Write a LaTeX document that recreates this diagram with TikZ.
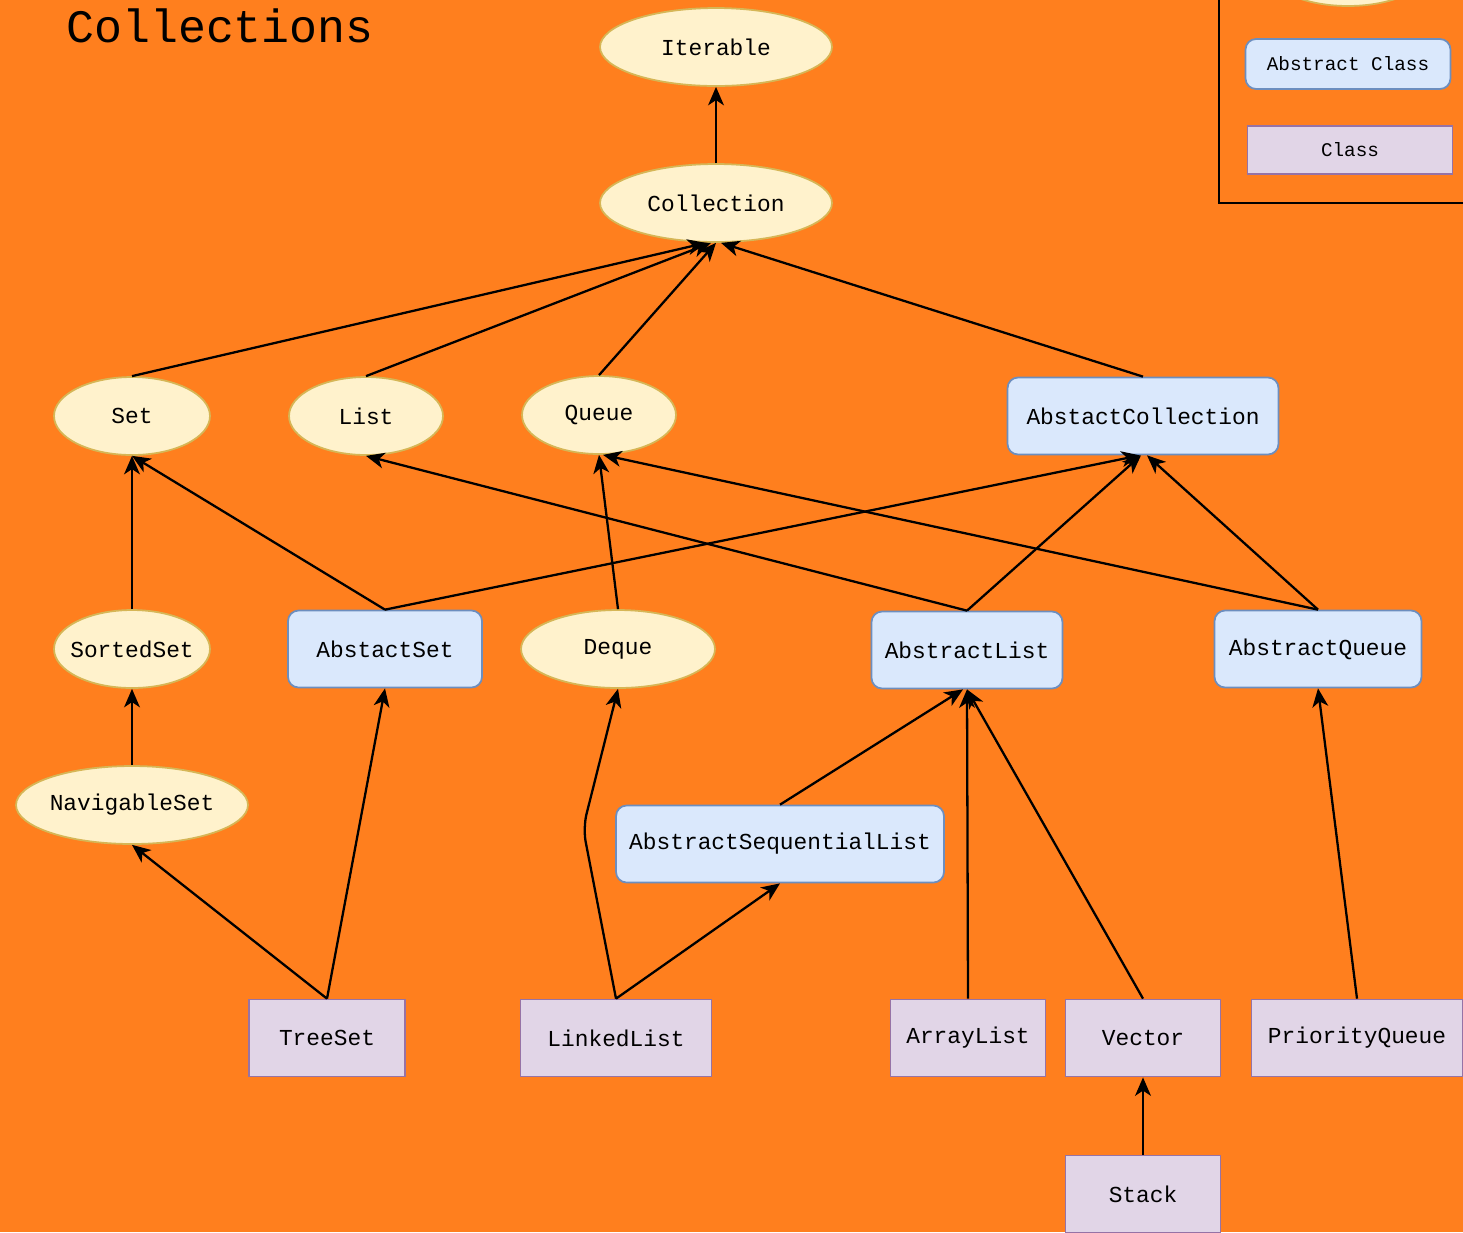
\documentclass[tikz,border=0pt]{standalone}
\usepackage{fontspec}
\setmainfont{Liberation Mono}
\usetikzlibrary{shapes.geometric}
\usetikzlibrary{arrows.meta}

\definecolor{bgorange}{HTML}{FF7F1E}
\definecolor{ifacefill}{HTML}{FFF2CC}
\definecolor{ifaceline}{HTML}{D6B656}
\definecolor{absfill}{HTML}{DAE8FC}
\definecolor{absline}{HTML}{6C8EBF}
\definecolor{clsfill}{HTML}{E1D5E7}
\definecolor{clsline}{HTML}{9673A6}

% text of an ellipse does not widen it
\newcommand{\itext}[1]{\makebox[0pt]{#1}}

\tikzset{
	iface/.style={ellipse, draw=ifaceline, fill=ifacefill, line width=1pt, inner sep=0pt, minimum height=1.56cm, font=\fontsize{13}{15}\selectfont},
	absbox/.style={rectangle, rounded corners=6pt, draw=absline, fill=absfill, line width=1pt, inner sep=0pt, minimum height=1.54cm, font=\fontsize{13}{15}\selectfont},
	clsbox/.style={rectangle, draw=clsline, fill=clsfill, line width=1pt, inner sep=0pt, minimum height=1.54cm, font=\fontsize{13}{15}\selectfont},
	inherit/.style={-{Stealth[length=10.5pt,width=9pt,inset=3pt]}, line width=1.3pt, black},
}

\begin{document}
\begin{tikzpicture}[x=0.02cm, y=-0.02cm]
		\fill[bgorange] (0,0) rectangle (1463,1232);
		\useasboundingbox (0,0) rectangle (1463,1232);
		\clip (0,0) rectangle (1463,1232);

		\node[font=\fontsize{26.5}{30}\selectfont] (title) at (220,26) {Collections};

		% Interfaces
		\node[iface, minimum width=4.64cm] (iterable) at (716,47) {\itext{Iterable}};
		\node[iface, minimum width=4.64cm] (collection) at (716,203) {\itext{Collection}};
		\node[iface, minimum width=3.12cm] (set) at (132,416) {\itext{Set}};
		\node[iface, minimum width=3.08cm] (list) at (366,416) {\itext{List}};
		\node[iface, minimum width=3.08cm] (queue) at (599,415) {\itext{Queue}};
		\node[iface, minimum width=3.12cm] (sortedset) at (132,649) {\itext{SortedSet}};
		\node[iface, minimum width=3.88cm] (deque) at (618,649) {\itext{Deque}};
		\node[iface, minimum width=4.64cm] (navigableset) at (132,805) {\itext{NavigableSet}};

		% Abstract classes
		\node[absbox, minimum width=5.42cm] (abscollection) at (1143,416) {AbstactCollection};
		\node[absbox, minimum width=3.88cm] (absset) at (385,649) {AbstactSet};
		\node[absbox, minimum width=3.82cm] (abslist) at (967,650) {AbstractList};
		\node[absbox, minimum width=4.14cm] (absqueue) at (1318,649) {AbstractQueue};
		\node[absbox, minimum width=6.56cm] (absseqlist) at (780,844) {AbstractSequentialList};

		% Classes
		\node[clsbox, minimum width=3.12cm] (treeset) at (327,1038) {TreeSet};
		\node[clsbox, minimum width=3.82cm] (linkedlist) at (616,1038) {LinkedList};
		\node[clsbox, minimum width=3.1cm] (arraylist) at (968,1038) {ArrayList};
		\node[clsbox, minimum width=3.1cm] (vector) at (1143,1038) {Vector};
		\node[clsbox, minimum width=4.22cm] (priorityqueue) at (1357,1038) {PriorityQueue};
		\node[clsbox, minimum width=3.1cm] (stack) at (1143,1194) {Stack};

		% Connections
		\draw [inherit] (collection.north) -- (iterable.south);
		\draw [inherit] (set.north) -- ([xshift=-0.2cm]collection.south);
		\draw [inherit] (list.north) -- ([xshift=-0.1cm]collection.south);
		\draw [inherit] (queue.north) -- (collection.south);
		\draw [inherit] (abscollection.north) -- ([xshift=0.1cm]collection.south);

		\draw [inherit] (sortedset.north) -- (set.south);
		\draw [inherit] (absset.north) -- (set.south);
		\draw [inherit] (absset.north) -- ([xshift=-0.06cm]abscollection.south);
		\draw [inherit] (deque.north) -- (queue.south);
		\draw [inherit] (abslist.north) -- (list.south);
		\draw [inherit] (abslist.north) -- ([xshift=-0.04cm]abscollection.south);
		\draw [inherit] (absqueue.north) -- ([xshift=0.08cm]queue.south);
		\draw [inherit] (absqueue.north) -- ([xshift=0.08cm]abscollection.south);

		\draw [inherit] (navigableset.north) -- (sortedset.south);
		\draw [inherit] (treeset.north) -- (navigableset.south);
		\draw [inherit] (treeset.north) -- (absset.south);
		\coordinate (dequebend) at (583,828);
		\draw [inherit, rounded corners=8pt] (linkedlist.north) -- (dequebend) -- (deque.south);
		\draw [inherit] (linkedlist.north) -- (absseqlist.south);
		\draw [inherit] (absseqlist.north) -- ([xshift=-0.08cm]abslist.south);
		\draw [inherit] (arraylist.north) -- (abslist.south);
		\draw [inherit] (vector.north) -- (abslist.south);
		\draw [inherit] (priorityqueue.north) -- (absqueue.south);
		\draw [inherit] (stack.north) -- (vector.south);

		% Legend
		\draw[line width=1.2pt] (1219,-10) -- (1219,203) -- (1480,203);
		\node[iface, minimum width=3.3cm] (legiface) at (1348,-33) {};
		\node[absbox, minimum width=4.1cm, minimum height=1cm, font=\fontsize{11}{13}\selectfont] (legabs) at (1348,64) {Abstract Class};
		\node[clsbox, minimum width=4.1cm, minimum height=0.96cm, font=\fontsize{11}{13}\selectfont] (legcls) at (1350,150) {Class};

	\end{tikzpicture}
\end{document}
